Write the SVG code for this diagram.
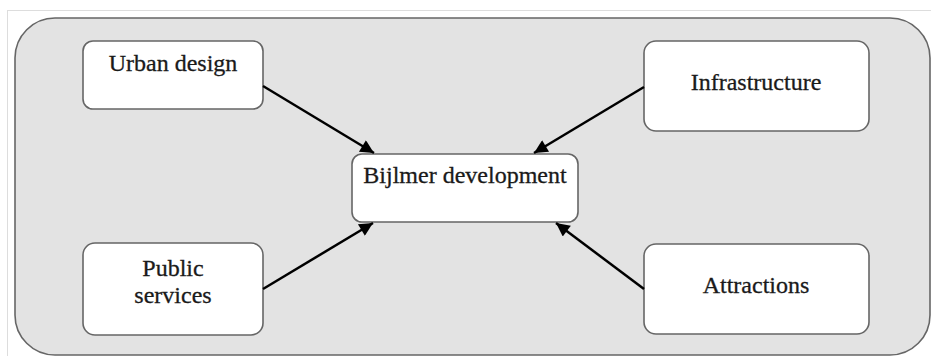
<svg xmlns="http://www.w3.org/2000/svg" width="931" height="356" viewBox="0 0 931 356">
<defs>
<marker id="ah" viewBox="0 0 10 10" refX="10" refY="5" markerWidth="6" markerHeight="5.4" orient="auto" markerUnits="strokeWidth">
<path d="M0,0 L10,5 L0,10 z" fill="#000"/>
</marker>
</defs>
<style>
.box{fill:#fff;stroke:#666;stroke-width:1.6}
.lbl{font-family:"Liberation Serif","Times New Roman",serif;font-size:24px;fill:#1a1a1a;stroke:#1a1a1a;stroke-width:0.3;text-anchor:middle}
.edge{stroke:#000;stroke-width:2.5;fill:none;marker-end:url(#ah)}
</style>
<rect x="0" y="0" width="931" height="356" fill="#fff"/>
<rect x="7.5" y="10.5" width="930" height="350" fill="none" stroke="#ddd" stroke-width="1"/>
<g id="frame">
<rect x="15" y="18" width="915" height="337" rx="40" ry="40" fill="#e3e3e3" stroke="#666" stroke-width="1.6"/>
</g>
<g id="urban-design">
<rect class="box" x="83" y="41" width="180" height="68" rx="10"/>
<text class="lbl" x="173" y="71">Urban design</text>
</g>
<g id="infrastructure">
<rect class="box" x="644" y="41" width="225" height="90" rx="12"/>
<text class="lbl" x="756" y="90">Infrastructure</text>
</g>
<g id="bijlmer-development">
<rect class="box" x="352" y="154" width="226" height="68" rx="10"/>
<text class="lbl" x="465" y="183">Bijlmer development</text>
</g>
<g id="public-services">
<rect class="box" x="83" y="243" width="180" height="92" rx="12"/>
<text class="lbl" x="173" y="276">Public</text>
<text class="lbl" x="173" y="303">services</text>
</g>
<g id="attractions">
<rect class="box" x="644" y="244" width="225" height="90" rx="12"/>
<text class="lbl" x="756" y="293">Attractions</text>
</g>
<g id="connectors">
<line class="edge" x1="263" y1="86" x2="374" y2="153"/>
<line class="edge" x1="644" y1="87" x2="534" y2="153"/>
<line class="edge" x1="263" y1="289" x2="373" y2="223"/>
<line class="edge" x1="644" y1="289" x2="556" y2="223"/>
</g>
</svg>
